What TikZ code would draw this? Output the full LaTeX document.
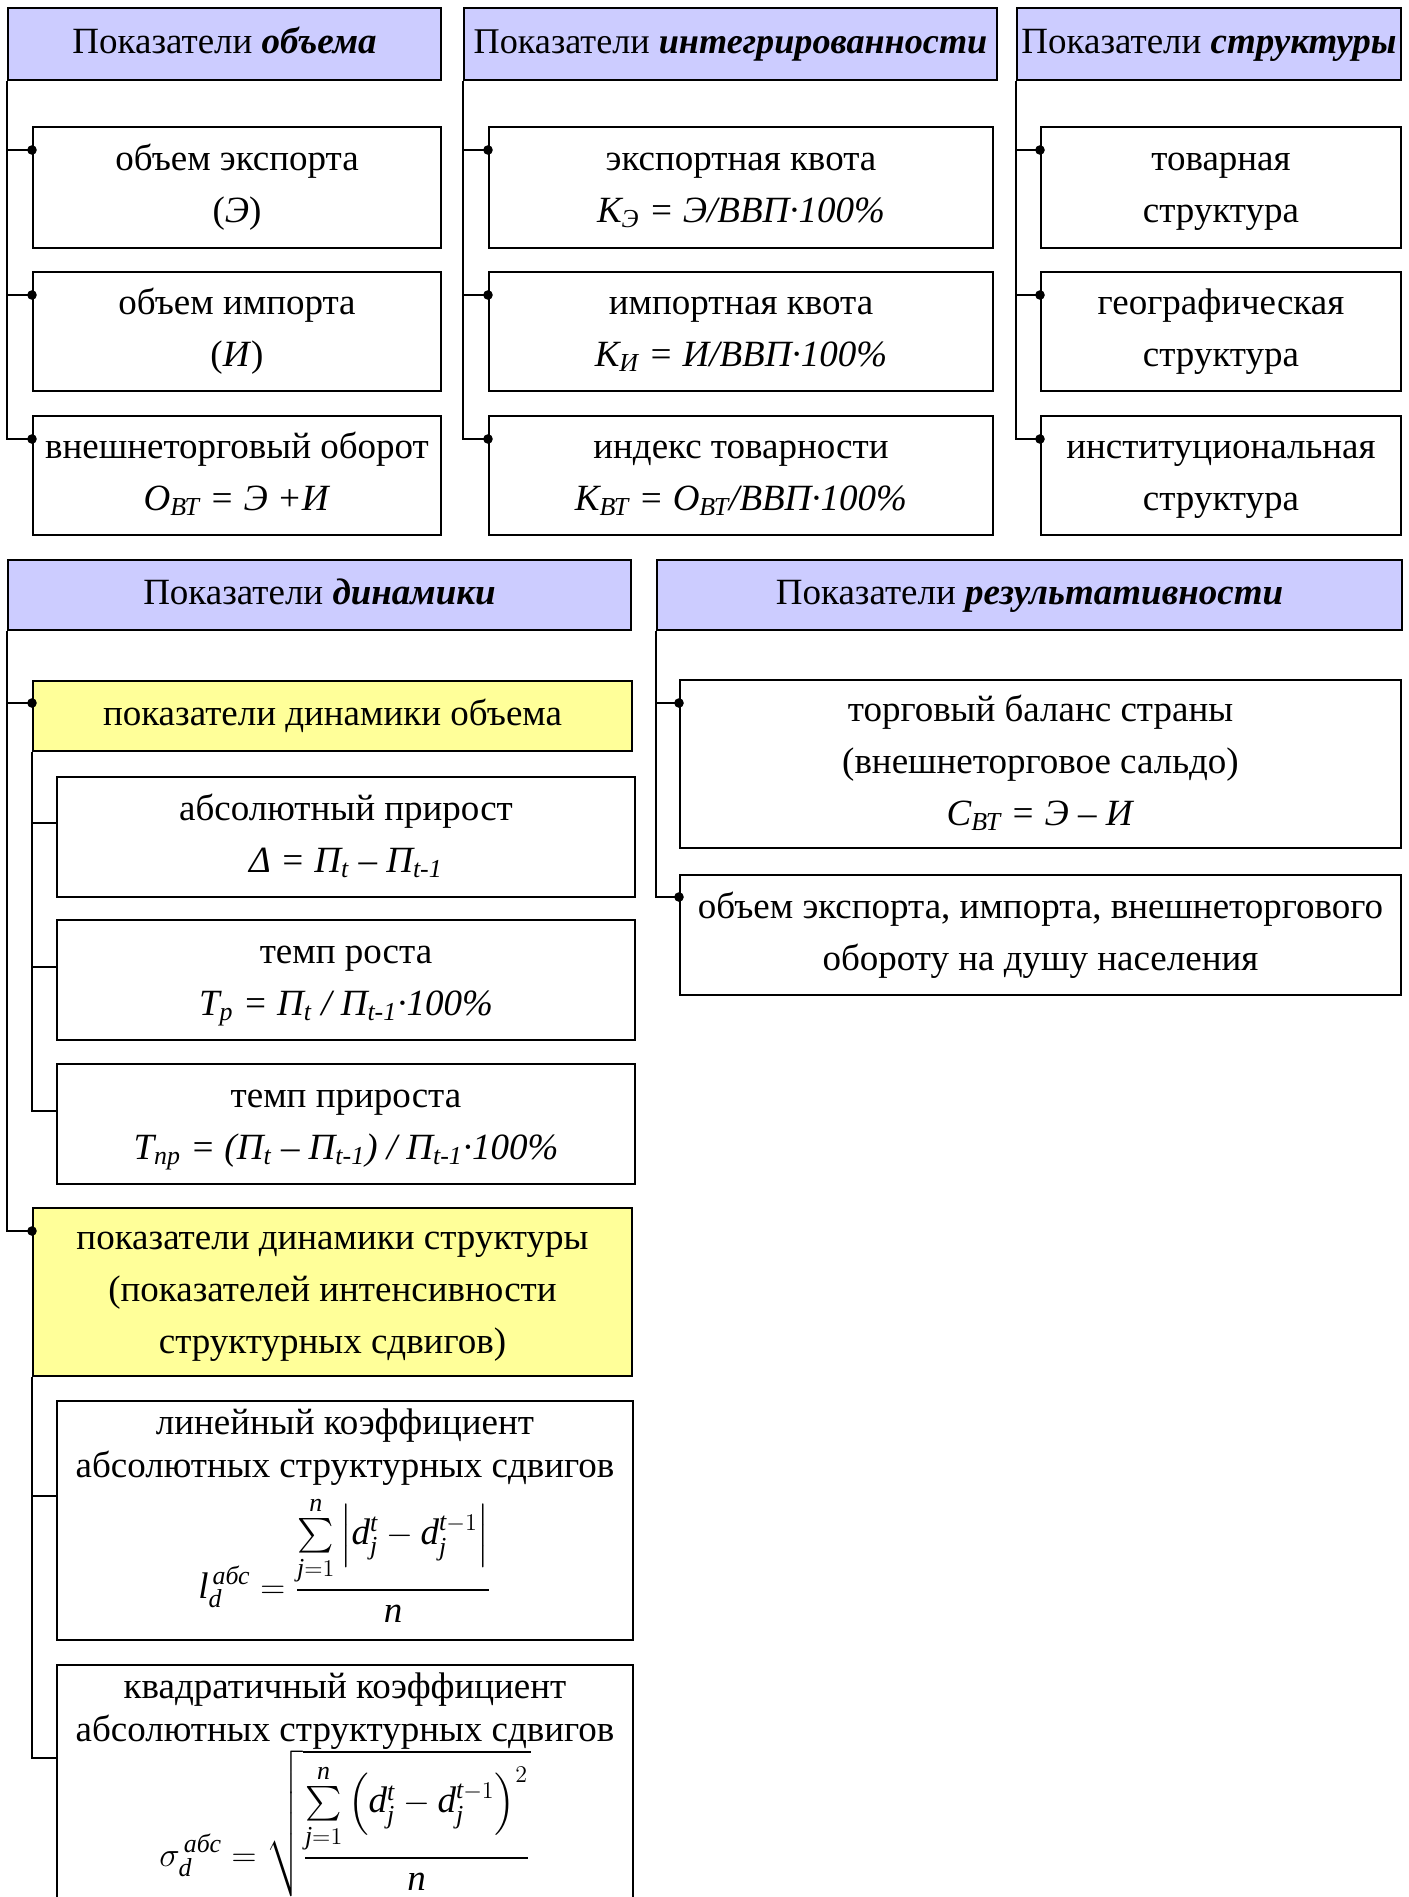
\documentclass[tikz,border=0pt]{standalone}
\usepackage{amsmath}
\usepackage{fontspec}
\setmainfont{Liberation Serif}
\definecolor{hdr}{HTML}{CCCCFF}
\definecolor{yel}{HTML}{FFFF99}
\newcommand\mv[1]{\mathit{#1}}
\newcommand\sth{\rule{0pt}{16pt}}
\newcommand\std{\rule[-7pt]{0pt}{7pt}}
\tikzset{
  basebox/.style={draw=black, line width=1pt, inner sep=0pt, align=center,
    font=\fontsize{18.5}{26}\selectfont},
  hdrbox/.style={basebox, fill=hdr},
  plainbox/.style={basebox, fill=white},
  yelbox/.style={basebox, fill=yel},
  fmlbox/.style={basebox, fill=white},
  fmltext/.style={inner sep=0pt, align=center, font=\fontsize{18.5}{21.75}\selectfont},
  conn/.style={line width=1pt},
  dotr/.style={fill=black},
}
\newcommand\mkbox[7]{%
  \pgfmathsetmacro\bw{(#5-#3)*0.5}%
  \pgfmathsetmacro\bh{(#6-#4)*0.5}%
  \pgfmathsetmacro\bcx{(#3+#5)/2}%
  \pgfmathsetmacro\bcy{(#4+#6)/2}%
  \node[#2, minimum width=\bw pt, minimum height=\bh pt] (#1) at (\bcx,\bcy) {\sth#7\std};%
}
\begin{document}
\begin{tikzpicture}[x=0.5pt,y=-0.5pt]
\useasboundingbox (0,0) rectangle (1409,1897);
\clip (0,0) rectangle (1409,1897);

% ---- top headers
\mkbox{h1}{hdrbox}{8}{8}{441}{80}{Показатели \textbf{\textit{объема}}}
\mkbox{h2}{hdrbox, font=\fontsize{18.1}{26}\selectfont}{464}{8}{997}{80}{Показатели \textbf{\textit{интегрированности}}}
\mkbox{h3}{hdrbox}{1017}{8}{1401}{80}{Показатели \textbf{\textit{структуры}}}

% ---- column 1
\mkbox{c1a}{plainbox}{33}{127}{441}{248}{объем экспорта\\(\textit{Э})}
\mkbox{c1b}{plainbox}{33}{272}{441}{391}{объем импорта\\(\textit{И})}
\mkbox{c1c}{plainbox}{33}{416}{441}{535}{внешнеторговый оборот\\\textit{О\textsubscript{ВТ} = Э +И}}
% ---- column 2
\mkbox{c2a}{plainbox}{489}{127}{993}{248}{экспортная квота\\\textit{К\textsubscript{Э} = Э/ВВП·100\%}}
\mkbox{c2b}{plainbox}{489}{272}{993}{391}{импортная квота\\\textit{К\textsubscript{И} = И/ВВП·100\%}}
\mkbox{c2c}{plainbox}{489}{416}{993}{535}{индекс товарности\\\textit{К\textsubscript{ВТ} = О\textsubscript{ВТ}/ВВП·100\%}}
% ---- column 3
\mkbox{c3a}{plainbox}{1041}{127}{1401}{248}{товарная\\структура}
\mkbox{c3b}{plainbox}{1041}{272}{1401}{391}{географическая\\структура}
\mkbox{c3c}{plainbox}{1041}{416}{1401}{535}{институциональная\\структура}

% connectors of the top columns
\foreach \hh/\cc in {h1/c1,h2/c2,h3/c3}{
  \coordinate (\cc a-d) at ([yshift=-12pt]\cc a.north west);
  \coordinate (\cc b-d) at ([yshift=-12pt]\cc b.north west);
  \coordinate (\cc c-d) at ([yshift=-12pt]\cc c.north west);
  \draw[conn] (\hh.south west) |- (\cc c-d);
  \draw[conn] (\hh.south west |- \cc a-d) -- (\cc a-d);
  \draw[conn] (\hh.south west |- \cc b-d) -- (\cc b-d);
  \fill[dotr] (\cc a-d) circle (2.4pt);
  \fill[dotr] (\cc b-d) circle (2.4pt);
  \fill[dotr] (\cc c-d) circle (2.4pt);
}

% ---- dynamics
\mkbox{h4}{hdrbox}{8}{560}{631}{630}{Показатели \textbf{\textit{динамики}}}
\mkbox{y1}{yelbox}{33}{681}{632}{751}{показатели динамики объема}
\mkbox{s1}{plainbox}{57}{777}{635}{897}{абсолютный прирост\\\textit{Δ = П\textsubscript{t} – П\textsubscript{t-1}}}
\mkbox{s2}{plainbox}{57}{920}{635}{1040}{темп роста\\\textit{Т\textsubscript{р} = П\textsubscript{t} / П\textsubscript{t-1}·100\%}}
\mkbox{s3}{plainbox}{57}{1064}{635}{1184}{темп прироста\\\textit{Т\textsubscript{пр} = (П\textsubscript{t} – П\textsubscript{t-1}) / П\textsubscript{t-1}·100\%}}
\mkbox{y2}{yelbox}{33}{1208}{632}{1376}{показатели динамики структуры\\(показателей интенсивности\\структурных сдвигов)}

\mkbox{l}{fmlbox}{57}{1401}{633}{1640}{}
\node[fmltext, anchor=north] (lt) at ([yshift=-4.2pt]l.north) {линейный коэффициент\\абсолютных структурных сдвигов\\[4pt]
  $\displaystyle \mv{l}_{\mv{d}}^{\,\textit{абс}} = \frac{\sum\limits_{\mv{j}=1}^{\mv{n}}\left|\mv{d}_{\mv{j}}^{\mv{t}} - \mv{d}_{\mv{j}}^{\mv{t}-1}\right|}{\mv{n}}$};
\mkbox{q}{fmlbox}{57}{1665}{633}{1990}{}
\node[fmltext, anchor=north] (qt) at ([yshift=-4.2pt]q.north) {квадратичный коэффициент\\абсолютных структурных сдвигов\\[-1pt]
  $\displaystyle \sigma_{\mv{d}}^{\,\textit{абс}} = \sqrt{\frac{\sum\limits_{\mv{j}=1}^{\mv{n}}\left(\mv{d}_{\mv{j}}^{\mv{t}} - \mv{d}_{\mv{j}}^{\mv{t}-1}\right)^{2}}{\mv{n}}}$};

\coordinate (y1-d) at ([yshift=-11.5pt]y1.north west);
\coordinate (y2-d) at ([yshift=-12pt]y2.north west);
\draw[conn] (h4.south west) |- (y2-d);
\draw[conn] (h4.south west |- y1-d) -- (y1-d);
\fill[dotr] (y1-d) circle (2.4pt);
\fill[dotr] (y2-d) circle (2.4pt);

\coordinate (s1-c) at ([yshift=-23.5pt]s1.north west);
\coordinate (s2-c) at ([yshift=-24pt]s2.north west);
\coordinate (s3-c) at ([yshift=-24pt]s3.north west);
\draw[conn] (y1.south west) |- (s3-c);
\draw[conn] (y1.south west |- s1-c) -- (s1-c);
\draw[conn] (y1.south west |- s2-c) -- (s2-c);

\coordinate (l-c) at ([yshift=-48pt]l.north west);
\coordinate (q-c) at ([yshift=-47pt]q.north west);
\draw[conn] (y2.south west) |- (q-c);
\draw[conn] (y2.south west |- l-c) -- (l-c);

% ---- results
\mkbox{h5}{hdrbox}{657}{560}{1402}{630}{Показатели \textbf{\textit{результативности}}}
\mkbox{r1}{plainbox}{680}{680}{1401}{848}{торговый баланс страны\\(внешнеторговое сальдо)\\\textit{С\textsubscript{ВТ} = Э – И}}
\mkbox{r2}{plainbox}{680}{875}{1401}{995}{объем экспорта, импорта, внешнеторгового\\обороту на душу населения}
\coordinate (r1-d) at ([yshift=-12pt]r1.north west);
\coordinate (r2-d) at ([yshift=-11.5pt]r2.north west);
\draw[conn] (h5.south west) |- (r2-d);
\draw[conn] (h5.south west |- r1-d) -- (r1-d);
\fill[dotr] (r1-d) circle (2.4pt);
\fill[dotr] (r2-d) circle (2.4pt);
\end{tikzpicture}
\end{document}
